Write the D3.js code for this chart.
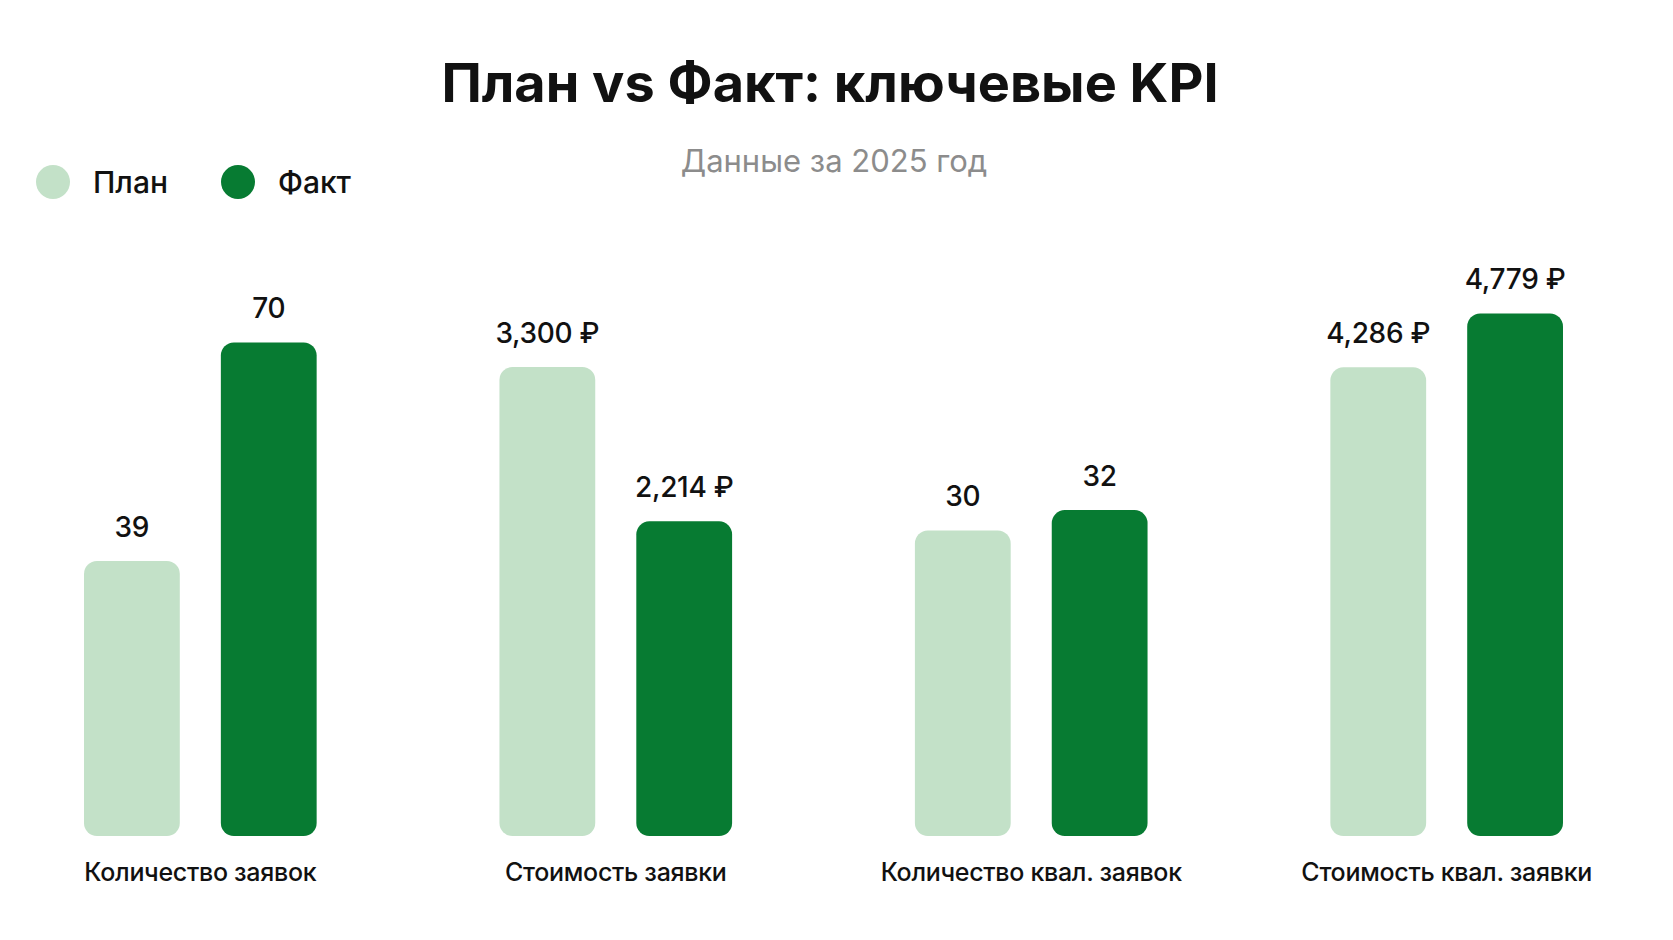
<!DOCTYPE html>
<html>
<head>
<meta charset="utf-8">
<script src="https://cdn.jsdelivr.net/npm/d3@7"></script>
<style>
  html, body { margin: 0; padding: 0; background: #ffffff; }
  body { font-family: Inter, "Noto Sans", sans-serif; }
</style>
</head>
<body>
<div class="areaGrafica"></div>
<script>
// данные
const categories = ["Количество заявок", "Стоимость заявки", "Количество квал. заявок", "Стоимость квал. заявки"];
const seriesNames = ["План", "Факт"];
const planValues = [39, 3300, 30, 4286];
const factValues = [70, 2214, 32, 4779];
const units = ["", " ₽", "", " ₽"];
// максимум шкалы для каждого KPI (у каждого своя шкала)
const scaleMax = [78, 3870, 54, 5030];

const colores = { "План": "#c3e1c8", "Факт": "#077b32" };

const w = 1673;
const h = 940;
const baseY = 836;
const topY = 286;

let svg = d3.select('.areaGrafica')
            .append('svg')
            .attr('width', w)
            .attr('height', h)

svg.append('text')
   .attr('x', 830)
   .attr('y', 102)
   .attr('text-anchor', 'middle')
   .style('font-size', '54px')
   .style('font-weight', 700)
   .style('fill', '#111')
   .text('План vs Факт: ключевые KPI')

svg.append('text')
   .attr('x', 834)
   .attr('y', 172)
   .attr('text-anchor', 'middle')
   .style('font-size', '31px')
   .style('fill', '#8c8c8c')
   .text('Данные за 2025 год')

// легенда
let legendX = [53, 238];
let legend = svg.selectAll('.leyenda')
                .data(seriesNames)
                .enter()
                .append('g')
                .attr('class', 'leyenda')
                .attr('transform', (d, i) => 'translate(' + legendX[i] + ',182)')

legend.append('circle')
      .attr('r', 17)
      .attr('fill', (d) => colores[d])

legend.append('text')
      .attr('x', 40)
      .attr('y', 11)
      .style('font-size', '30px')
      .style('font-weight', 500)
      .style('fill', '#111')
      .text((d) => d)

let datos = categories.map((c, i) => ({
    cat: c,
    i: i,
    valores: [
        { serie: "План", valor: planValues[i] },
        { serie: "Факт", valor: factValues[i] }
    ]
}))

let x0 = d3.scaleBand()
           .domain(categories)
           .range([84, 1563])
           .paddingInner(0.44)
           .paddingOuter(0)

let x1 = d3.scaleBand()
           .domain(seriesNames)
           .range([0, x0.bandwidth()])
           .paddingInner(0.3)

let yScales = scaleMax.map((m) => d3.scaleLinear()
                                   .domain([0, m])
                                   .range([baseY, topY]))

let fmt = d3.format(',')

let grupos = svg.selectAll('.grupo')
                .data(datos)
                .enter()
                .append('g')
                .attr('class', 'grupo')
                .attr('transform', (d) => 'translate(' + x0(d.cat) + ',0)')

grupos.selectAll('rect')
      .data((d) => d.valores.map((v) => ({ ...v, i: d.i })))
      .enter()
      .append('rect')
      .attr('x', (d) => x1(d.serie))
      .attr('y', (d) => yScales[d.i](d.valor))
      .attr('width', x1.bandwidth())
      .attr('height', (d) => baseY - yScales[d.i](d.valor))
      .attr('rx', 13)
      .attr('fill', (d) => colores[d.serie])

grupos.selectAll('.valor')
      .data((d) => d.valores.map((v) => ({ ...v, i: d.i })))
      .enter()
      .append('text')
      .attr('class', 'valor')
      .attr('x', (d) => x1(d.serie) + x1.bandwidth() / 2)
      .attr('y', (d) => yScales[d.i](d.valor) - 24)
      .attr('text-anchor', 'middle')
      .style('font-size', '28px')
      .style('font-weight', 500)
      .style('letter-spacing', '-0.3px')
      .style('fill', '#111')
      .text((d) => fmt(d.valor) + units[d.i])

let xAxis = d3.axisBottom(x0)
              .tickSize(0)
              .tickPadding(27)

let ejeX = svg.append('g')
    .attr('id', 'ejeX')
    .attr('transform', 'translate(0,' + baseY + ')')
    .call(xAxis)

ejeX.select('.domain').remove()
ejeX.selectAll('text')
    .style('font-family', 'Inter, "Noto Sans", sans-serif')
    .style('font-size', '25px')
    .style('font-weight', 500)
    .style('letter-spacing', '-0.3px')
    .style('fill', '#111')
</script>
</body>
</html>
